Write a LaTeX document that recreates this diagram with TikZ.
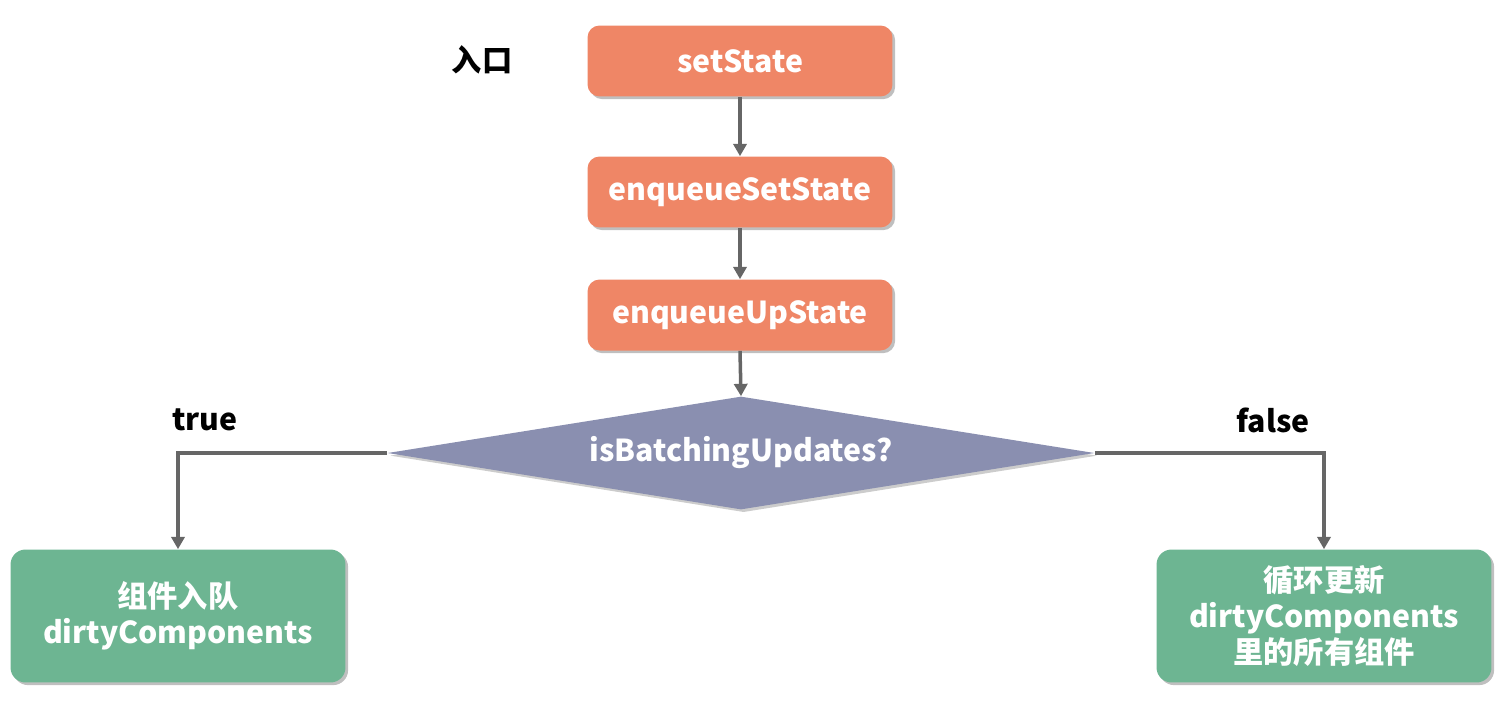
\documentclass[tikz,border=0pt]{standalone}
\usepackage{fontspec}
\setmainfont{Noto Sans CJK SC}
\usetikzlibrary{shapes.geometric,arrows.meta,shadows}
\definecolor{orangebox}{HTML}{EF8666}
\definecolor{greenbox}{HTML}{6DB592}
\definecolor{diamondfill}{HTML}{8A8FB0}
\definecolor{arrowgray}{HTML}{666666}
\tikzset{
  txt/.style={font=\fontsize{17.2}{20}\selectfont\bfseries},
  orangenode/.style={txt, draw=none, fill=orangebox, text=white, rounded corners=0.24cm,
     minimum width=6.1cm, minimum height=1.42cm, inner sep=0pt,
     drop shadow={shadow xshift=1.5pt, shadow yshift=-1.5pt, opacity=0.25, fill=black}},
  greennode/.style={txt, draw=none, fill=greenbox, text=white, rounded corners=0.3cm,
     minimum width=6.7cm, minimum height=2.66cm, inner sep=0pt, align=center,
     font=\fontsize{17.2}{20.4}\selectfont\bfseries,
     drop shadow={shadow xshift=1.5pt, shadow yshift=-1.5pt, opacity=0.25, fill=black}},
  decnode/.style={txt, shape=diamond, draw=none, fill=diamondfill, text=white,
     minimum width=14.14cm, minimum height=2.26cm, inner sep=0pt, aspect=6.25,
     drop shadow={shadow xshift=1.5pt, shadow yshift=-1.5pt, opacity=0.2, fill=black}},
  flow/.style={draw=arrowgray, line width=2pt, -{Triangle[length=7pt,width=7.5pt]}},
  lbl/.style={txt, text=black}
}
\begin{document}
\begin{tikzpicture}[x=0.02cm,y=-0.02cm]
\useasboundingbox (0,0) rectangle (1501,714);
\node[orangenode] (s1) at (740,61) {setState};
\node[orangenode] (s2) at (740,192) {enqueueSetState};
\node[orangenode] (s3) at (740,315) {enqueueUpState};
\node[decnode] (dec) at (741,453) {isBatchingUpdates?};
\node[greennode] (lt) at (178,616) {组件入队\\dirtyComponents};
\node[greennode] (rt) at (1324,616) {循环更新\\dirtyComponents\\里的所有组件};
\node[lbl] (entry) at (482,60) {入口};
\node[lbl] (tl) at (205,420) {true};
\node[lbl] (fl) at (1273,420) {false};
\draw[flow] (s1.south) -- (s2.north);
\draw[flow] (s2.south) -- (s3.north);
\draw[flow] (s3.south) -- (dec.north);
\draw[flow] (dec.west) -| (lt.north);
\draw[flow] (dec.east) -| (rt.north);
\end{tikzpicture}
\end{document}
